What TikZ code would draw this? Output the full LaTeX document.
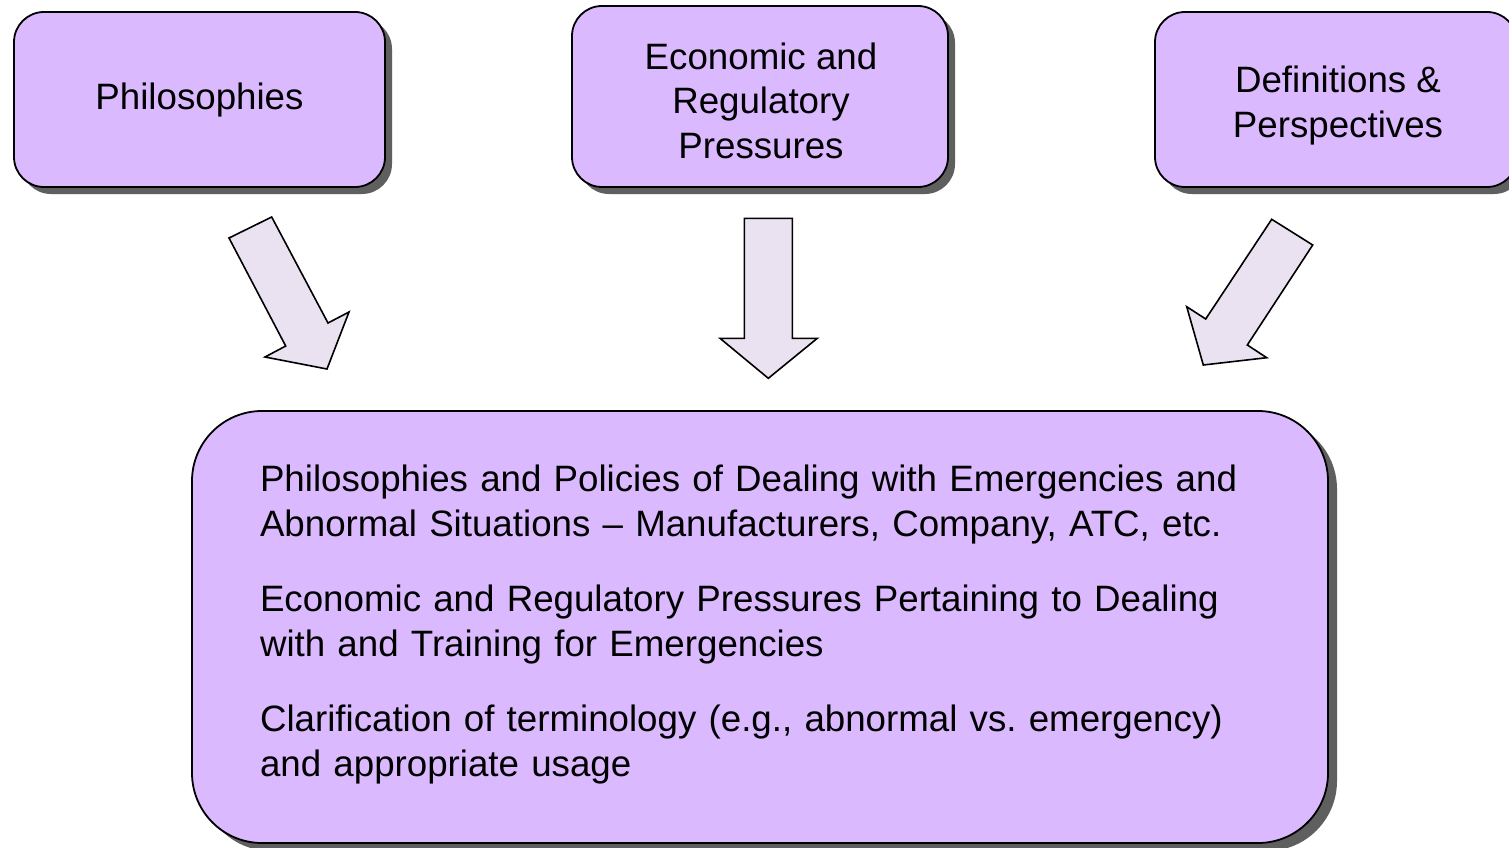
\documentclass[tikz,border=0pt]{standalone}
\usepackage{fontspec}
\setmainfont{Liberation Sans}
\usetikzlibrary{shadows}
\definecolor{boxfill}{HTML}{DBB9FF}
\definecolor{arrowfill}{HTML}{EAE2F1}
\definecolor{shadowgray}{HTML}{5F5F5F}
\tikzset{
  topic/.style={draw=black, line width=1.8pt, fill=boxfill, rounded corners=30pt,
    drop shadow={shadow xshift=7pt, shadow yshift=-7pt, fill=shadowgray, opacity=1},
    inner sep=0pt},
  topictext/.style={align=center, inner sep=0pt, font=\fontsize{36.7}{44.5}\selectfont},
  summary/.style={draw=black, line width=1.8pt, fill=boxfill, rounded corners=70pt,
    drop shadow={shadow xshift=9pt, shadow yshift=-8pt, fill=shadowgray, opacity=1},
    align=left, text width=1000pt, inner xsep=68pt, inner ysep=0pt,
    font=\fontsize{36.7}{44.5}\selectfont},
  blockarrow/.style={draw=black, line width=1.6pt, fill=arrowfill, line join=miter}
}
\begin{document}
\frenchspacing
\begin{tikzpicture}[x=1pt, y=-1pt]
\useasboundingbox (0,0) rectangle (1509,848);
\fill[white] (0,0) rectangle (1509,848);

% three source topics
\node[topic, minimum width=371pt, minimum height=175pt] (phil) at (199.5,99.5) {};
\node[topictext] (philtext) at ([yshift=-1pt]phil.center) {Philosophies};
\node[topic, minimum width=376pt, minimum height=181pt] (econ) at (760,96.5) {};
\node[topictext] (econtext) at ([xshift=1pt, yshift=-4pt]econ.center)
  {Economic and\\Regulatory\\Pressures};
\node[topic, minimum width=362pt, minimum height=175pt] (defs) at (1336,99.5) {};
\node[topictext] (defstext) at ([xshift=2pt, yshift=-6pt]defs.center)
  {Definitions \&\\Perspectives};

% summary box
\node[summary, minimum width=1136pt, minimum height=432pt] (sum) at (760,627) {};
\node[align=left, inner sep=0pt, text width=1000pt, font=\fontsize{36.7}{44.5}\selectfont]
  (sumtext) at ([yshift=2.5pt]sum.center)
  {Philosophies and Policies of Dealing with Emergencies and\\
   Abnormal Situations -- Manufacturers, Company, ATC, etc.\\[31pt]
   Economic and Regulatory Pressures Pertaining to Dealing\\
   with and Training for Emergencies\\[31pt]
   Clarification of terminology (e.g., abnormal vs. emergency)\\
   and appropriate usage};

% block arrows feeding the summary
\draw[blockarrow] (229,238) -- (271.7,217) -- (328,323) -- (349,312) -- (327,369)
  -- (265,357) -- (285.7,346) -- cycle;
\draw[blockarrow] (744.3,218.3) -- (792.3,218.3) -- (792.3,338.3) -- (817.3,338.3)
  -- (768.3,378.3) -- (720,338.3) -- (744.3,338.3) -- cycle;
\draw[blockarrow] (1271.7,219.3) -- (1312.7,245) -- (1247.3,345) -- (1266.7,357.7)
  -- (1203.3,365) -- (1186.7,306.7) -- (1205.7,319) -- cycle;
\end{tikzpicture}
\end{document}
